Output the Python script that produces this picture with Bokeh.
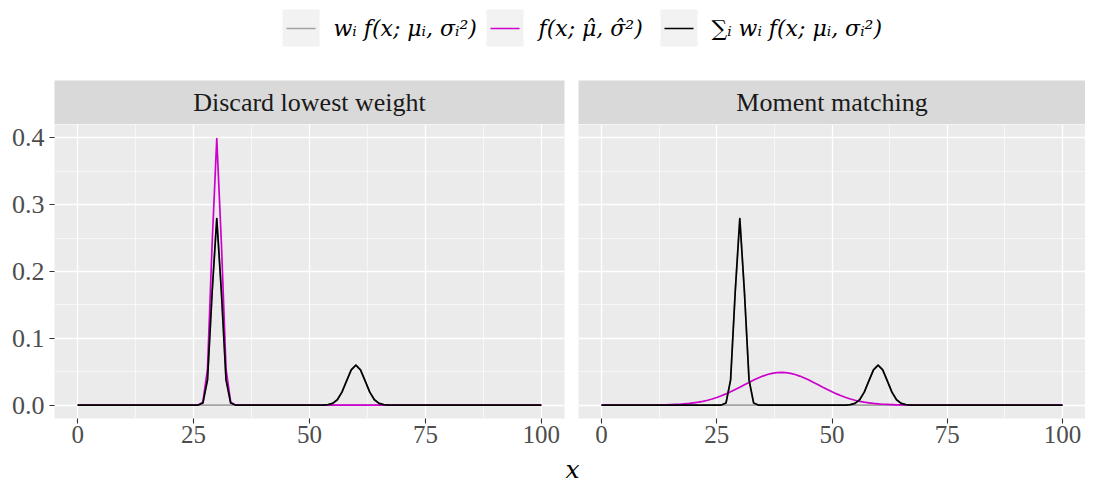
from bokeh.plotting import figure
from bokeh.layouts import column, row
from bokeh.models import Range1d, FixedTicker, PrintfTickFormatter, ColumnDataSource
from bokeh.core.properties import value
from bokeh.embed import file_html
from bokeh.resources import INLINE

# ---------------- data ----------------
x_values = list(range(0, 101))

component_1 = [
    0, 0, 0, 0, 0, 0, 0, 0, 0, 0,
    0, 0, 0, 0, 0, 0, 0, 0, 0, 0,
    0, 0, 0, 0, 0, 0, 0.0001, 0.0031, 0.0378, 0.1694,
    0.2793, 0.1694, 0.0378, 0.0031, 0.0001, 0, 0, 0, 0, 0,
    0, 0, 0, 0, 0, 0, 0, 0, 0, 0,
    0, 0, 0, 0, 0, 0, 0, 0, 0, 0,
    0, 0, 0, 0, 0, 0, 0, 0, 0, 0,
    0, 0, 0, 0, 0, 0, 0, 0, 0, 0,
    0, 0, 0, 0, 0, 0, 0, 0, 0, 0,
    0, 0, 0, 0, 0, 0, 0, 0, 0, 0,
    0,
]

component_2 = [
    0, 0, 0, 0, 0, 0, 0, 0, 0, 0,
    0, 0, 0, 0, 0, 0, 0, 0, 0, 0,
    0, 0, 0, 0, 0, 0, 0, 0, 0, 0,
    0, 0, 0, 0, 0, 0, 0, 0, 0, 0,
    0, 0, 0, 0, 0, 0, 0, 0, 0, 0,
    0, 0, 0, 0.0001, 0.0007, 0.0026, 0.0081, 0.0194, 0.0363, 0.0528,
    0.0598, 0.0528, 0.0363, 0.0194, 0.0081, 0.0026, 0.0007, 0.0001, 0, 0,
    0, 0, 0, 0, 0, 0, 0, 0, 0, 0,
    0, 0, 0, 0, 0, 0, 0, 0, 0, 0,
    0, 0, 0, 0, 0, 0, 0, 0, 0, 0,
    0,
]

mixture = [
    0, 0, 0, 0, 0, 0, 0, 0, 0, 0,
    0, 0, 0, 0, 0, 0, 0, 0, 0, 0,
    0, 0, 0, 0, 0, 0, 0.0001, 0.0031, 0.0378, 0.1694,
    0.2793, 0.1694, 0.0378, 0.0031, 0.0001, 0, 0, 0, 0, 0,
    0, 0, 0, 0, 0, 0, 0, 0, 0, 0,
    0, 0, 0, 0.0001, 0.0007, 0.0026, 0.0081, 0.0194, 0.0363, 0.0528,
    0.0598, 0.0528, 0.0363, 0.0194, 0.0081, 0.0026, 0.0007, 0.0001, 0, 0,
    0, 0, 0, 0, 0, 0, 0, 0, 0, 0,
    0, 0, 0, 0, 0, 0, 0, 0, 0, 0,
    0, 0, 0, 0, 0, 0, 0, 0, 0, 0,
    0,
]

approx_discard = [
    0, 0, 0, 0, 0, 0, 0, 0, 0, 0,
    0, 0, 0, 0, 0, 0, 0, 0, 0, 0,
    0, 0, 0, 0, 0, 0, 0.0001, 0.0044, 0.0540, 0.2420,
    0.3989, 0.2420, 0.0540, 0.0044, 0.0001, 0, 0, 0, 0, 0,
    0, 0, 0, 0, 0, 0, 0, 0, 0, 0,
    0, 0, 0, 0, 0, 0, 0, 0, 0, 0,
    0, 0, 0, 0, 0, 0, 0, 0, 0, 0,
    0, 0, 0, 0, 0, 0, 0, 0, 0, 0,
    0, 0, 0, 0, 0, 0, 0, 0, 0, 0,
    0, 0, 0, 0, 0, 0, 0, 0, 0, 0,
    0,
]

approx_moment = [
    0, 0, 0, 0, 0, 0, 0, 0, 0, 0,
    0, 0.0001, 0.0002, 0.0003, 0.0005, 0.0007, 0.0010, 0.0013, 0.0019, 0.0025,
    0.0034, 0.0044, 0.0057, 0.0073, 0.0092, 0.0114, 0.0140, 0.0168, 0.0199, 0.0233,
    0.0268, 0.0305, 0.0340, 0.0375, 0.0407, 0.0435, 0.0458, 0.0476, 0.0486, 0.0490,
    0.0486, 0.0476, 0.0458, 0.0435, 0.0407, 0.0375, 0.0340, 0.0305, 0.0268, 0.0233,
    0.0199, 0.0168, 0.0140, 0.0114, 0.0092, 0.0073, 0.0057, 0.0044, 0.0034, 0.0025,
    0.0019, 0.0013, 0.0010, 0.0007, 0.0005, 0.0003, 0.0002, 0.0001, 0, 0,
    0, 0, 0, 0, 0, 0, 0, 0, 0, 0,
    0, 0, 0, 0, 0, 0, 0, 0, 0, 0,
    0, 0, 0, 0, 0, 0, 0, 0, 0, 0,
    0,
]

panel_titles = ["Discard lowest weight", "Moment matching"]
x_ticks = [0, 25, 50, 75, 100]
x_minor = [12.5, 37.5, 62.5, 87.5]
y_ticks = [0.0, 0.1, 0.2, 0.3, 0.4]
y_minor = [0.05, 0.15, 0.25, 0.35]
legend_labels = ["w\u1d62 f(x; \u03bc\u1d62, \u03c3\u1d62\u00b2)",
                 "f(x; \u03bc\u0302, \u03c3\u0302\u00b2)",
                 "\u2211\u1d62 w\u1d62 f(x; \u03bc\u1d62, \u03c3\u1d62\u00b2)"]
x_label = "x"

# ---------------- style ----------------
FONT = "Liberation Serif"
MATH_FONT = "DejaVu Serif"
GREY_LINE = "#A3A3A3"
MAGENTA = "#CD00CD"
BLACK = "#000000"
PANEL_BG = "#EBEBEB"
STRIP_BG = "#D9D9D9"
TEXT_COL = "#4D4D4D"
LW = 1.7

TOTAL_W = 1085
LEG_H = 80
STRIP_H = 44
FRAME_H = 294
BOTTOM_B = 36
XLAB_H = 484 - LEG_H - STRIP_H - FRAME_H - BOTTOM_B
LEFT_B = 54
GAP_L = 7
GAP_R = 7
RIGHT_B = 0
FRAME_W_L = 510
FRAME_W_R = TOTAL_W - LEFT_B - FRAME_W_L - GAP_L - GAP_R - RIGHT_B

# ---------------- legend ----------------
leg = figure(width=TOTAL_W, height=LEG_H, x_range=Range1d(0, TOTAL_W), y_range=Range1d(LEG_H, 0),
             output_backend="svg", toolbar_location=None, min_border=0)
leg.axis.visible = False
leg.grid.visible = False
leg.outline_line_color = None
leg.background_fill_color = "white"
key_left = [282, 486, 660]
key_w = 37
text_x = [333, 538, 711]
colors = [GREY_LINE, MAGENTA, BLACK]
leg.quad(left=key_left, right=[k + key_w for k in key_left], top=[9] * 3, bottom=[46] * 3,
         fill_color="#F2F2F2", line_color=None)
leg.segment(x0=[k + 4 for k in key_left], x1=[k + key_w - 4 for k in key_left], y0=[28] * 3, y1=[28] * 3,
            line_color=colors, line_width=LW)
leg.text(x=text_x, y=[28] * 3, text=legend_labels, text_font=value(MATH_FONT), text_font_style="italic",
         text_font_size="22px", text_baseline="middle", text_align="left", text_color="#000000")


def strip(title, left_b, frame_w, right_b):
    s = figure(width=left_b + frame_w + right_b, height=STRIP_H, x_range=Range1d(0, 1), y_range=Range1d(0, 1),
               output_backend="svg", toolbar_location=None,
               min_border_left=left_b, min_border_right=right_b, min_border_top=0, min_border_bottom=0)
    s.axis.visible = False
    s.grid.visible = False
    s.outline_line_color = None
    s.background_fill_color = STRIP_BG
    s.text(x=[0.5], y=[0.5], text=[title], text_font=value(FONT), text_font_size="26px",
           text_align="center", text_baseline="middle", text_color="#1A1A1A")
    return s


def panel(approx, left_b, frame_w, right_b, show_y):
    p = figure(width=left_b + frame_w + right_b, height=FRAME_H + BOTTOM_B,
               x_range=Range1d(-5, 105), y_range=Range1d(-0.02, 0.42),
               output_backend="svg", toolbar_location=None,
               min_border_left=left_b, min_border_right=right_b, min_border_top=0, min_border_bottom=BOTTOM_B)
    p.background_fill_color = PANEL_BG
    p.outline_line_color = None
    xt = FixedTicker(ticks=x_ticks, minor_ticks=x_minor)
    yt = FixedTicker(ticks=y_ticks, minor_ticks=y_minor)
    p.xaxis.ticker = xt
    p.yaxis.ticker = yt
    p.xgrid.ticker = xt
    p.ygrid.ticker = yt
    p.yaxis.formatter = PrintfTickFormatter(format="%.1f")
    for g in (p.xgrid, p.ygrid):
        g.grid_line_color = "white"
        g.grid_line_width = 1.3
        g.minor_grid_line_color = "white"
        g.minor_grid_line_width = 0.6
    for ax in (p.xaxis, p.yaxis):
        ax.axis_line_color = None
        ax.minor_tick_line_color = None
        ax.major_tick_line_color = "#333333"
        ax.major_tick_line_width = 1.1
        ax.major_tick_out = 5
        ax.major_tick_in = 0
        ax.major_label_text_font = FONT
        ax.major_label_text_color = TEXT_COL
    p.yaxis.major_label_text_font_size = "26px"
    p.xaxis.major_label_text_font_size = "25px"
    p.xaxis.major_label_standoff = 2
    p.yaxis.major_label_standoff = 5
    p.yaxis.visible = show_y

    src = ColumnDataSource(dict(x=x_values, c1=component_1, c2=component_2, mix=mixture, approx=approx))
    for col, colr in (("c1", GREY_LINE), ("c2", GREY_LINE), ("approx", MAGENTA), ("mix", BLACK)):
        p.line(x="x", y=col, source=src, line_color=colr, line_width=LW, line_join="round")
    return p


left_col = column(strip(panel_titles[0], LEFT_B, FRAME_W_L, GAP_L),
                  panel(approx_discard, LEFT_B, FRAME_W_L, GAP_L, True))
right_col = column(strip(panel_titles[1], GAP_R, FRAME_W_R, RIGHT_B),
                   panel(approx_moment, GAP_R, FRAME_W_R, RIGHT_B, False))

xlab = figure(width=TOTAL_W, height=XLAB_H, x_range=Range1d(0, TOTAL_W), y_range=Range1d(XLAB_H, 0),
              output_backend="svg", toolbar_location=None, min_border=0)
xlab.axis.visible = False
xlab.grid.visible = False
xlab.outline_line_color = None
xlab.text(x=[572], y=[XLAB_H / 2], text=[x_label], text_font=value(MATH_FONT), text_font_style="italic",
          text_font_size="25px", text_align="center", text_baseline="middle", text_color="#000000")

layout = column(leg, row(left_col, right_col), xlab)

open("out.html", "w").write(file_html(layout, INLINE))
